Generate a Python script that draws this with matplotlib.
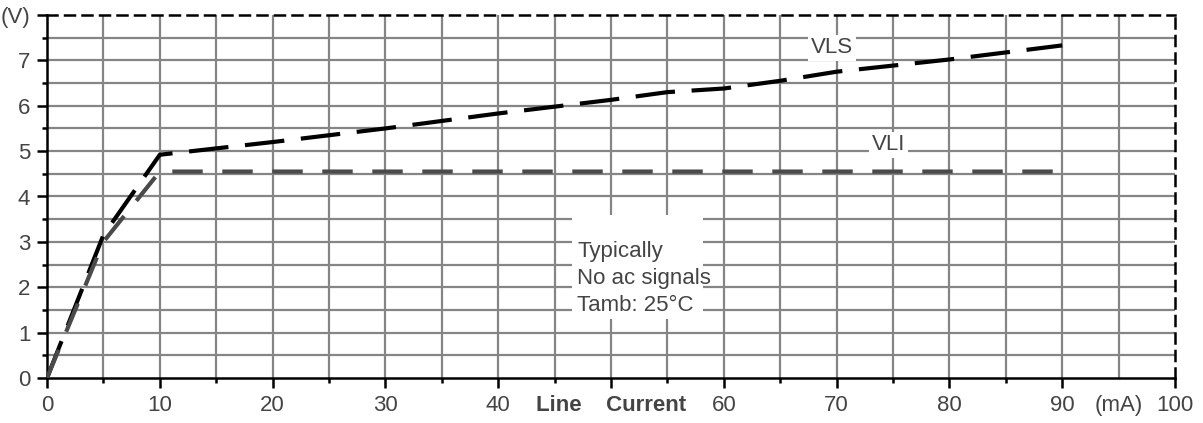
import matplotlib
matplotlib.use("Agg")
import matplotlib.pyplot as plt
from matplotlib.patches import Rectangle
import numpy as np

plt.rcParams["font.family"] = ["Liberation Sans", "DejaVu Sans"]

# Data
vls_x = [0, 5, 10, 20, 30, 40, 50, 55, 60, 65, 70, 80, 90]
vls_y = [0, 3.15, 4.92, 5.2, 5.5, 5.83, 6.13, 6.3, 6.38, 6.55, 6.75, 7.02, 7.33]
vli_x = [0, 5, 10, 90]
vli_y = [0, 3.0, 4.55, 4.55]
x_ticks = [0, 10, 20, 30, 40, 50, 60, 70, 80, 90, 95, 100]
x_tick_labels = ["0", "10", "20", "30", "40", "Line    Current", "60", "70", "80", "90", "(mA)", "100"]
y_ticks = [0, 1, 2, 3, 4, 5, 6, 7, 8]
y_tick_labels = ["0", "1", "2", "3", "4", "5", "6", "7", "(V)"]
note_lines = ["Typically", "No ac signals", "Tamb: 25°C"]

fig = plt.figure(figsize=(12.03, 4.23), dpi=100)
ax = fig.add_axes([47/1203, 45/423, (1175-47)/1203, (378-15)/423])
ax.set_xlim(0, 100)
ax.set_ylim(0, 8)

txtcol = "#444444"
gridcol = "#858585"
FS = 16
# grid
for gx in np.arange(5, 100, 5):
    ax.axvline(gx, color=gridcol, lw=1.6, zorder=1)
for gy in np.arange(0.5, 8, 0.5):
    ax.axhline(gy, color=gridcol, lw=1.6, zorder=1)

# note box
ax.add_patch(Rectangle((46.5, 1.3), 11.7, 2.3, facecolor="white", edgecolor="none", zorder=2))
for i, t in enumerate(note_lines):
    ax.text(47.0, 2.78 - i*0.59, t, fontsize=FS, color=txtcol, va="center", ha="left", zorder=3)

ax.plot(vls_x, vls_y, color="black", lw=3, dashes=(9.5, 4), zorder=4)
ax.plot(vli_x, vli_y, color="#4a4a4a", lw=3, dashes=(7.3, 4.7), zorder=4)

ax.text(69.6, 7.28, "VLS", fontsize=FS, color=txtcol, ha="center", va="center", zorder=5,
        bbox=dict(facecolor="white", edgecolor="none", pad=2))
ax.text(74.6, 5.14, "VLI", fontsize=FS, color=txtcol, ha="center", va="center", zorder=5,
        bbox=dict(facecolor="white", edgecolor="none", pad=2))

# spines
for s in ["left", "bottom"]:
    ax.spines[s].set_linewidth(1.8)
    ax.spines[s].set_color("black")
for s in ["top", "right"]:
    ax.spines[s].set_linewidth(1.8)
    ax.spines[s].set_linestyle((0, (4, 3)))
    ax.spines[s].set_color("black")

ax.set_xticks(x_ticks)
ax.set_xticklabels(x_tick_labels)
ax.set_xticks(np.arange(5, 100, 10), minor=True)
ax.set_yticks(y_ticks)
ax.set_yticklabels(y_tick_labels)
ax.set_yticks(np.arange(0.5, 8, 1), minor=True)
ax.tick_params(axis="both", which="both", direction="out", width=1.8, color="black",
               labelsize=FS, labelcolor=txtcol)
ax.tick_params(axis="both", which="major", length=7, pad=5)
ax.tick_params(axis="both", which="minor", length=3.5)
for lbl in ax.get_xticklabels():
    if "Line" in lbl.get_text():
        lbl.set_fontweight("bold")
# hide major tick mark at 95 (mA label)
for t in ax.xaxis.get_major_ticks():
    if abs(t.get_loc() - 95) < 0.1:
        t.tick1line.set_visible(False)

fig.savefig("out.png", dpi=100)
